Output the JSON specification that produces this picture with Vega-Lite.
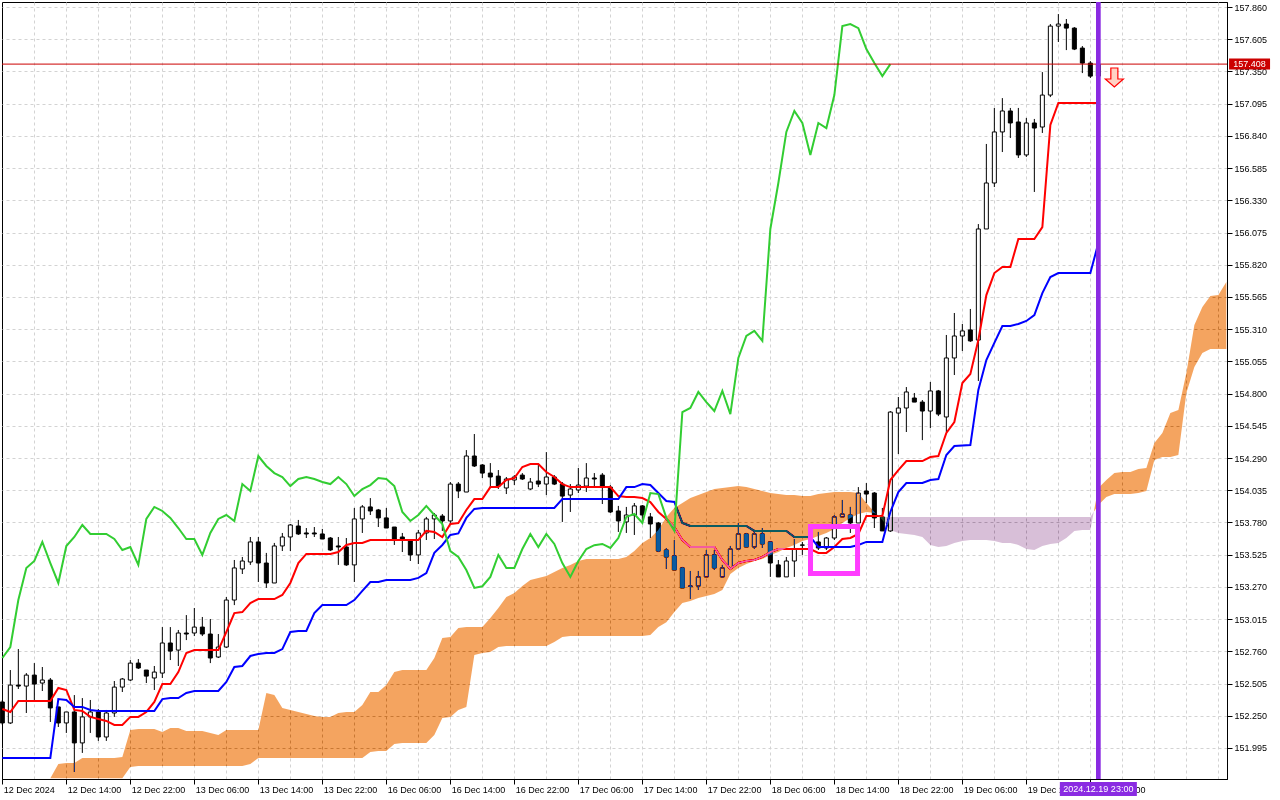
{
  "$schema": "https://vega.github.io/schema/vega-lite/v6.json",
  "width": 1225,
  "height": 777,
  "autosize": {"type": "none"},
  "padding": {"left": 2, "top": 2, "right": 53, "bottom": 21},
  "background": "white",
  "config": {
    "view": {"stroke": "black", "strokeWidth": 1, "fill": "white"},
    "font": "Liberation Sans",
    "axis": {"labelOverlap": false, "labelSeparation": 0}
  },
  "datasets": {
    "bars": [
      {"k":0,"o":152.359,"h":152.375,"l":152.177,"c":152.193},
      {"k":1,"o":152.193,"h":152.612,"l":152.185,"c":152.493},
      {"k":2,"o":152.493,"h":152.778,"l":152.462,"c":152.485},
      {"k":3,"o":152.485,"h":152.588,"l":152.272,"c":152.572},
      {"k":4,"o":152.572,"h":152.667,"l":152.375,"c":152.501},
      {"k":5,"o":152.509,"h":152.636,"l":152.446,"c":152.533},
      {"k":6,"o":152.533,"h":152.549,"l":152.201,"c":152.312},
      {"k":7,"o":152.320,"h":152.320,"l":152.161,"c":152.193},
      {"k":8,"o":152.193,"h":152.280,"l":152.114,"c":152.280},
      {"k":9,"o":152.280,"h":152.414,"l":151.805,"c":152.035},
      {"k":10,"o":152.035,"h":152.390,"l":151.956,"c":152.241},
      {"k":11,"o":152.241,"h":152.375,"l":152.114,"c":152.280},
      {"k":12,"o":152.280,"h":152.304,"l":152.051,"c":152.082},
      {"k":13,"o":152.082,"h":152.296,"l":152.051,"c":152.272},
      {"k":14,"o":152.272,"h":152.525,"l":152.241,"c":152.477},
      {"k":15,"o":152.477,"h":152.549,"l":152.438,"c":152.541},
      {"k":16,"o":152.533,"h":152.691,"l":152.525,"c":152.667},
      {"k":17,"o":152.667,"h":152.699,"l":152.620,"c":152.628},
      {"k":18,"o":152.612,"h":152.612,"l":152.509,"c":152.564},
      {"k":19,"o":152.549,"h":152.644,"l":152.454,"c":152.596},
      {"k":20,"o":152.588,"h":152.952,"l":152.549,"c":152.826},
      {"k":21,"o":152.826,"h":152.952,"l":152.691,"c":152.762},
      {"k":22,"o":152.770,"h":152.929,"l":152.644,"c":152.905},
      {"k":23,"o":152.905,"h":153.047,"l":152.849,"c":152.897},
      {"k":24,"o":152.905,"h":153.103,"l":152.881,"c":152.952},
      {"k":25,"o":152.952,"h":153.032,"l":152.881,"c":152.897},
      {"k":26,"o":152.897,"h":153.016,"l":152.667,"c":152.707},
      {"k":27,"o":152.715,"h":152.897,"l":152.707,"c":152.794},
      {"k":28,"o":152.794,"h":153.190,"l":152.786,"c":153.166},
      {"k":29,"o":153.166,"h":153.483,"l":153.126,"c":153.420},
      {"k":30,"o":153.412,"h":153.507,"l":153.372,"c":153.475},
      {"k":31,"o":153.467,"h":153.665,"l":153.444,"c":153.626},
      {"k":32,"o":153.626,"h":153.665,"l":153.309,"c":153.459},
      {"k":33,"o":153.459,"h":153.539,"l":153.262,"c":153.301},
      {"k":34,"o":153.301,"h":153.618,"l":153.301,"c":153.594},
      {"k":35,"o":153.594,"h":153.697,"l":153.554,"c":153.665},
      {"k":36,"o":153.665,"h":153.768,"l":153.554,"c":153.760},
      {"k":37,"o":153.752,"h":153.800,"l":153.681,"c":153.689},
      {"k":38,"o":153.697,"h":153.736,"l":153.657,"c":153.689},
      {"k":39,"o":153.697,"h":153.744,"l":153.665,"c":153.689},
      {"k":40,"o":153.689,"h":153.729,"l":153.649,"c":153.649},
      {"k":41,"o":153.657,"h":153.665,"l":153.554,"c":153.562},
      {"k":42,"o":153.594,"h":153.665,"l":153.444,"c":153.586},
      {"k":43,"o":153.586,"h":153.657,"l":153.436,"c":153.444},
      {"k":44,"o":153.444,"h":153.895,"l":153.309,"c":153.808},
      {"k":45,"o":153.808,"h":153.918,"l":153.697,"c":153.903},
      {"k":46,"o":153.903,"h":153.973,"l":153.839,"c":153.871},
      {"k":47,"o":153.879,"h":153.887,"l":153.744,"c":153.816},
      {"k":48,"o":153.816,"h":153.895,"l":153.736,"c":153.736},
      {"k":49,"o":153.744,"h":153.744,"l":153.602,"c":153.649},
      {"k":50,"o":153.665,"h":153.697,"l":153.546,"c":153.649},
      {"k":51,"o":153.634,"h":153.634,"l":153.475,"c":153.523},
      {"k":52,"o":153.523,"h":153.721,"l":153.451,"c":153.697},
      {"k":53,"o":153.697,"h":153.824,"l":153.641,"c":153.808},
      {"k":54,"o":153.808,"h":153.855,"l":153.649,"c":153.839},
      {"k":55,"o":153.831,"h":153.847,"l":153.713,"c":153.792},
      {"k":56,"o":153.792,"h":154.100,"l":153.760,"c":154.084},
      {"k":57,"o":154.084,"h":154.100,"l":153.973,"c":154.029},
      {"k":58,"o":154.021,"h":154.353,"l":154.021,"c":154.306},
      {"k":59,"o":154.306,"h":154.480,"l":154.219,"c":154.227},
      {"k":60,"o":154.235,"h":154.242,"l":154.132,"c":154.171},
      {"k":61,"o":154.171,"h":154.250,"l":154.060,"c":154.140},
      {"k":62,"o":154.147,"h":154.195,"l":154.045,"c":154.068},
      {"k":63,"o":154.053,"h":154.140,"l":154.005,"c":154.124},
      {"k":64,"o":154.116,"h":154.155,"l":154.076,"c":154.140},
      {"k":65,"o":154.155,"h":154.171,"l":154.116,"c":154.124},
      {"k":66,"o":154.045,"h":154.132,"l":154.037,"c":154.100},
      {"k":67,"o":154.108,"h":154.235,"l":154.060,"c":154.084},
      {"k":68,"o":154.084,"h":154.337,"l":153.997,"c":154.140},
      {"k":69,"o":154.140,"h":154.155,"l":154.076,"c":154.084},
      {"k":70,"o":154.084,"h":154.100,"l":153.784,"c":153.989},
      {"k":71,"o":153.997,"h":154.084,"l":153.863,"c":154.045},
      {"k":72,"o":154.037,"h":154.211,"l":154.013,"c":154.076},
      {"k":73,"o":154.068,"h":154.250,"l":154.021,"c":154.132},
      {"k":74,"o":154.132,"h":154.171,"l":154.060,"c":154.124},
      {"k":75,"o":154.155,"h":154.171,"l":153.926,"c":154.068},
      {"k":76,"o":154.060,"h":154.076,"l":153.855,"c":153.863},
      {"k":77,"o":153.871,"h":153.911,"l":153.705,"c":153.792},
      {"k":78,"o":153.784,"h":153.903,"l":153.697,"c":153.839},
      {"k":79,"o":153.839,"h":153.934,"l":153.681,"c":153.911},
      {"k":80,"o":153.911,"h":153.918,"l":153.776,"c":153.839},
      {"k":81,"o":153.824,"h":153.855,"l":153.657,"c":153.768},
      {"k":82,"o":153.776,"h":153.784,"l":153.546,"c":153.554},
      {"k":83,"o":153.562,"h":153.578,"l":153.412,"c":153.507},
      {"k":84,"o":153.515,"h":153.641,"l":153.404,"c":153.404},
      {"k":85,"o":153.420,"h":153.428,"l":153.262,"c":153.262},
      {"k":86,"o":153.277,"h":153.396,"l":153.174,"c":153.275},
      {"k":87,"o":153.277,"h":153.396,"l":153.246,"c":153.349},
      {"k":88,"o":153.349,"h":153.562,"l":153.349,"c":153.523},
      {"k":89,"o":153.523,"h":153.562,"l":153.404,"c":153.420},
      {"k":90,"o":153.349,"h":153.444,"l":153.341,"c":153.420},
      {"k":91,"o":153.420,"h":153.594,"l":153.412,"c":153.570},
      {"k":92,"o":153.570,"h":153.776,"l":153.562,"c":153.689},
      {"k":93,"o":153.689,"h":153.697,"l":153.586,"c":153.586},
      {"k":94,"o":153.586,"h":153.721,"l":153.570,"c":153.689},
      {"k":95,"o":153.689,"h":153.736,"l":153.578,"c":153.610},
      {"k":96,"o":153.626,"h":153.626,"l":153.349,"c":153.459},
      {"k":97,"o":153.444,"h":153.483,"l":153.349,"c":153.349},
      {"k":98,"o":153.349,"h":153.507,"l":153.349,"c":153.475},
      {"k":99,"o":153.475,"h":153.649,"l":153.349,"c":153.570},
      {"k":100,"o":153.602,"h":153.626,"l":153.523,"c":153.600},
      {"k":101,"o":153.602,"h":153.641,"l":153.562,"c":153.610},
      {"k":102,"o":153.626,"h":153.705,"l":153.562,"c":153.578},
      {"k":103,"o":153.578,"h":153.665,"l":153.562,"c":153.657},
      {"k":104,"o":153.657,"h":153.839,"l":153.641,"c":153.824},
      {"k":105,"o":153.824,"h":153.958,"l":153.824,"c":153.847},
      {"k":106,"o":153.839,"h":153.903,"l":153.697,"c":153.776},
      {"k":107,"o":153.776,"h":154.060,"l":153.776,"c":154.013},
      {"k":108,"o":154.029,"h":154.092,"l":153.934,"c":154.005},
      {"k":109,"o":154.013,"h":154.021,"l":153.736,"c":153.816},
      {"k":110,"o":153.824,"h":153.895,"l":153.713,"c":153.713},
      {"k":111,"o":153.713,"h":154.662,"l":153.705,"c":154.654},
      {"k":112,"o":154.646,"h":154.773,"l":154.322,"c":154.686},
      {"k":113,"o":154.686,"h":154.852,"l":154.496,"c":154.813},
      {"k":114,"o":154.765,"h":154.805,"l":154.733,"c":154.733},
      {"k":115,"o":154.733,"h":154.749,"l":154.432,"c":154.662},
      {"k":116,"o":154.662,"h":154.892,"l":154.527,"c":154.821},
      {"k":117,"o":154.821,"h":154.829,"l":154.622,"c":154.638},
      {"k":118,"o":154.615,"h":155.264,"l":154.496,"c":155.082},
      {"k":119,"o":155.082,"h":155.438,"l":154.947,"c":155.256},
      {"k":120,"o":155.256,"h":155.351,"l":155.137,"c":155.296},
      {"k":121,"o":155.304,"h":155.470,"l":155.209,"c":155.217},
      {"k":122,"o":155.224,"h":156.142,"l":154.900,"c":156.103},
      {"k":123,"o":156.103,"h":156.776,"l":156.103,"c":156.467},
      {"k":124,"o":156.467,"h":157.061,"l":156.435,"c":156.871},
      {"k":125,"o":156.871,"h":157.139,"l":156.712,"c":157.037},
      {"k":126,"o":157.037,"h":157.061,"l":156.823,"c":156.942},
      {"k":127,"o":156.950,"h":157.061,"l":156.665,"c":156.689},
      {"k":128,"o":156.689,"h":156.982,"l":156.673,"c":156.942},
      {"k":129,"o":156.942,"h":156.974,"l":156.396,"c":156.902},
      {"k":130,"o":156.910,"h":157.345,"l":156.863,"c":157.163},
      {"k":131,"o":157.163,"h":157.725,"l":157.147,"c":157.709},
      {"k":132,"o":157.709,"h":157.804,"l":157.583,"c":157.725},
      {"k":133,"o":157.725,"h":157.765,"l":157.519,"c":157.693},
      {"k":134,"o":157.693,"h":157.701,"l":157.519,"c":157.527},
      {"k":135,"o":157.535,"h":157.551,"l":157.337,"c":157.416},
      {"k":136,"o":157.416,"h":157.432,"l":157.298,"c":157.313},
      {"k":137,"o":157.313,"h":157.412,"l":157.300,"c":157.408}
    ],
    "tenkan": [
      {"k":0,"v":152.304},{"k":1,"v":152.280},{"k":2,"v":152.367},{"k":6,"v":152.367},{"k":7,"v":152.470},
      {"k":8,"v":152.454},{"k":9,"v":152.296},{"k":10,"v":152.288},{"k":11,"v":152.241},{"k":12,"v":152.225},
      {"k":13,"v":152.209},{"k":14,"v":152.177},{"k":15,"v":152.177},{"k":16,"v":152.241},{"k":17,"v":152.241},
      {"k":18,"v":152.280},{"k":19,"v":152.359},{"k":20,"v":152.501},{"k":21,"v":152.501},{"k":22,"v":152.596},
      {"k":23,"v":152.747},{"k":24,"v":152.770},{"k":27,"v":152.770},{"k":28,"v":152.913},{"k":29,"v":153.063},
      {"k":30,"v":153.071},{"k":31,"v":153.142},{"k":32,"v":153.174},{"k":34,"v":153.174},{"k":35,"v":153.206},
      {"k":36,"v":153.301},{"k":37,"v":153.459},{"k":38,"v":153.531},{"k":41,"v":153.531},{"k":42,"v":153.546},
      {"k":43,"v":153.602},{"k":44,"v":153.618},{"k":45,"v":153.618},{"k":46,"v":153.641},{"k":52,"v":153.641},
      {"k":53,"v":153.713},{"k":54,"v":153.705},{"k":55,"v":153.665},{"k":56,"v":153.768},{"k":57,"v":153.776},
      {"k":58,"v":153.879},{"k":59,"v":153.965},{"k":60,"v":153.965},{"k":61,"v":154.060},{"k":62,"v":154.060},
      {"k":63,"v":154.116},{"k":64,"v":154.132},{"k":65,"v":154.219},{"k":66,"v":154.242},{"k":67,"v":154.242},
      {"k":68,"v":154.179},{"k":69,"v":154.140},{"k":70,"v":154.084},{"k":71,"v":154.060},{"k":76,"v":154.060},
      {"k":77,"v":153.989},{"k":78,"v":153.981},{"k":79,"v":153.981},{"k":80,"v":153.973},{"k":81,"v":153.942},
      {"k":82,"v":153.863},{"k":83,"v":153.808},{"k":84,"v":153.744},{"k":85,"v":153.641},{"k":86,"v":153.586},
      {"k":89,"v":153.586},{"k":90,"v":153.483},{"k":91,"v":153.412},{"k":92,"v":153.459},{"k":93,"v":153.475},
      {"k":94,"v":153.483},{"k":95,"v":153.507},{"k":96,"v":153.546},{"k":97,"v":153.570},{"k":101,"v":153.570},
      {"k":102,"v":153.539},{"k":103,"v":153.539},{"k":104,"v":153.586},{"k":105,"v":153.649},{"k":106,"v":153.657},
      {"k":107,"v":153.689},{"k":108,"v":153.831},{"k":110,"v":153.831},{"k":111,"v":154.116},{"k":112,"v":154.195},
      {"k":113,"v":154.266},{"k":115,"v":154.266},{"k":116,"v":154.298},{"k":117,"v":154.306},{"k":118,"v":154.488},
      {"k":119,"v":154.575},{"k":120,"v":154.884},{"k":121,"v":154.955},{"k":122,"v":155.224},{"k":123,"v":155.580},
      {"k":124,"v":155.754},{"k":125,"v":155.802},{"k":126,"v":155.802},{"k":127,"v":156.023},{"k":129,"v":156.023},
      {"k":130,"v":156.118},{"k":131,"v":156.926},{"k":132,"v":157.100},{"k":137,"v":157.100}
    ],
    "kijun": [
      {"k":0,"v":151.916},{"k":6,"v":151.916},{"k":7,"v":152.382},{"k":8,"v":152.375},{"k":9,"v":152.320},
      {"k":10,"v":152.320},{"k":11,"v":152.296},{"k":12,"v":152.288},{"k":19,"v":152.288},{"k":20,"v":152.382},
      {"k":21,"v":152.390},{"k":22,"v":152.390},{"k":23,"v":152.430},{"k":24,"v":152.446},{"k":27,"v":152.446},
      {"k":28,"v":152.517},{"k":29,"v":152.636},{"k":30,"v":152.644},{"k":31,"v":152.723},{"k":32,"v":152.739},
      {"k":33,"v":152.747},{"k":34,"v":152.747},{"k":35,"v":152.778},{"k":36,"v":152.913},{"k":37,"v":152.921},
      {"k":38,"v":152.921},{"k":39,"v":153.063},{"k":40,"v":153.126},{"k":43,"v":153.126},{"k":44,"v":153.166},
      {"k":45,"v":153.238},{"k":46,"v":153.309},{"k":47,"v":153.309},{"k":48,"v":153.325},{"k":51,"v":153.325},
      {"k":52,"v":153.341},{"k":53,"v":153.380},{"k":54,"v":153.539},{"k":55,"v":153.602},{"k":56,"v":153.681},
      {"k":57,"v":153.693},{"k":58,"v":153.816},{"k":59,"v":153.887},{"k":60,"v":153.895},{"k":69,"v":153.895},
      {"k":70,"v":153.965},{"k":77,"v":153.965},{"k":78,"v":154.060},{"k":79,"v":154.060},{"k":80,"v":154.084},
      {"k":81,"v":154.076},{"k":82,"v":154.013},{"k":83,"v":153.950},{"k":84,"v":153.942},{"k":85,"v":153.776},
      {"k":86,"v":153.752},{"k":93,"v":153.752},{"k":94,"v":153.713},{"k":98,"v":153.713},{"k":99,"v":153.665},
      {"k":101,"v":153.665},{"k":102,"v":153.586},{"k":106,"v":153.586},{"k":107,"v":153.602},{"k":108,"v":153.626},
      {"k":110,"v":153.626},{"k":111,"v":153.863},{"k":112,"v":154.021},{"k":113,"v":154.092},{"k":115,"v":154.092},
      {"k":116,"v":154.116},{"k":117,"v":154.124},{"k":118,"v":154.314},{"k":119,"v":154.385},{"k":121,"v":154.393},
      {"k":122,"v":154.829},{"k":123,"v":155.066},{"k":124,"v":155.201},{"k":125,"v":155.335},{"k":126,"v":155.335},
      {"k":127,"v":155.351},{"k":128,"v":155.375},{"k":129,"v":155.422},{"k":130,"v":155.596},{"k":131,"v":155.723},
      {"k":132,"v":155.754},{"k":136,"v":155.754},{"k":137,"v":155.992}
    ],
    "chikou": [
      {"k":0,"v":152.707},{"k":1,"v":152.794},{"k":2,"v":153.166},{"k":3,"v":153.420},{"k":4,"v":153.475},
      {"k":5,"v":153.626},{"k":6,"v":153.459},{"k":7,"v":153.301},{"k":8,"v":153.594},{"k":9,"v":153.665},
      {"k":10,"v":153.760},{"k":11,"v":153.689},{"k":12,"v":153.689},{"k":13,"v":153.689},{"k":14,"v":153.649},
      {"k":15,"v":153.562},{"k":16,"v":153.586},{"k":17,"v":153.444},{"k":18,"v":153.808},{"k":19,"v":153.903},
      {"k":20,"v":153.871},{"k":21,"v":153.816},{"k":22,"v":153.736},{"k":23,"v":153.649},{"k":24,"v":153.649},
      {"k":25,"v":153.523},{"k":26,"v":153.697},{"k":27,"v":153.808},{"k":28,"v":153.839},{"k":29,"v":153.792},
      {"k":30,"v":154.084},{"k":31,"v":154.029},{"k":32,"v":154.306},{"k":33,"v":154.227},{"k":34,"v":154.171},
      {"k":35,"v":154.140},{"k":36,"v":154.068},{"k":37,"v":154.124},{"k":38,"v":154.140},{"k":39,"v":154.124},
      {"k":40,"v":154.100},{"k":41,"v":154.084},{"k":42,"v":154.140},{"k":43,"v":154.084},{"k":44,"v":153.989},
      {"k":45,"v":154.045},{"k":46,"v":154.076},{"k":47,"v":154.132},{"k":48,"v":154.124},{"k":49,"v":154.068},
      {"k":50,"v":153.863},{"k":51,"v":153.792},{"k":52,"v":153.839},{"k":53,"v":153.911},{"k":54,"v":153.839},
      {"k":55,"v":153.768},{"k":56,"v":153.554},{"k":57,"v":153.507},{"k":58,"v":153.404},{"k":59,"v":153.262},
      {"k":60,"v":153.275},{"k":61,"v":153.349},{"k":62,"v":153.523},{"k":63,"v":153.420},{"k":64,"v":153.420},
      {"k":65,"v":153.570},{"k":66,"v":153.689},{"k":67,"v":153.586},{"k":68,"v":153.689},{"k":69,"v":153.610},
      {"k":70,"v":153.459},{"k":71,"v":153.349},{"k":72,"v":153.475},{"k":73,"v":153.570},{"k":74,"v":153.600},
      {"k":75,"v":153.610},{"k":76,"v":153.578},{"k":77,"v":153.657},{"k":78,"v":153.824},{"k":79,"v":153.847},
      {"k":80,"v":153.776},{"k":81,"v":154.013},{"k":82,"v":154.005},{"k":83,"v":153.816},{"k":84,"v":153.713},
      {"k":85,"v":154.654},{"k":86,"v":154.686},{"k":87,"v":154.813},{"k":88,"v":154.733},{"k":89,"v":154.662},
      {"k":90,"v":154.821},{"k":91,"v":154.638},{"k":92,"v":155.082},{"k":93,"v":155.256},{"k":94,"v":155.296},
      {"k":95,"v":155.217},{"k":96,"v":156.103},{"k":97,"v":156.467},{"k":98,"v":156.871},{"k":99,"v":157.037},
      {"k":100,"v":156.942},{"k":101,"v":156.689},{"k":102,"v":156.942},{"k":103,"v":156.902},{"k":104,"v":157.163},
      {"k":105,"v":157.709},{"k":106,"v":157.725},{"k":107,"v":157.693},{"k":108,"v":157.527},{"k":109,"v":157.416},
      {"k":110,"v":157.313},{"k":111,"v":157.408}
    ],
    "cloud": [
      {"k":0,"a":151.755,"b":151.755,"seg":"s1","trend":"bull"},
      {"k":6,"a":151.755,"b":151.755,"seg":"s1","trend":"bull"},
      {"k":7,"a":151.868,"b":151.755,"seg":"s1","trend":"bull"},
      {"k":8,"a":151.876,"b":151.755,"seg":"s1","trend":"bull"},
      {"k":9,"a":151.876,"b":151.755,"seg":"s1","trend":"bull"},
      {"k":10,"a":151.916,"b":151.755,"seg":"s1","trend":"bull"},
      {"k":14,"a":151.916,"b":151.755,"seg":"s1","trend":"bull"},
      {"k":15,"a":151.924,"b":151.755,"seg":"s1","trend":"bull"},
      {"k":16,"a":152.138,"b":151.845,"seg":"s1","trend":"bull"},
      {"k":17,"a":152.146,"b":151.853,"seg":"s1","trend":"bull"},
      {"k":19,"a":152.146,"b":151.853,"seg":"s1","trend":"bull"},
      {"k":20,"a":152.122,"b":151.853,"seg":"s1","trend":"bull"},
      {"k":21,"a":152.154,"b":151.853,"seg":"s1","trend":"bull"},
      {"k":22,"a":152.154,"b":151.853,"seg":"s1","trend":"bull"},
      {"k":23,"a":152.130,"b":151.853,"seg":"s1","trend":"bull"},
      {"k":25,"a":152.130,"b":151.853,"seg":"s1","trend":"bull"},
      {"k":26,"a":152.114,"b":151.853,"seg":"s1","trend":"bull"},
      {"k":27,"a":152.098,"b":151.853,"seg":"s1","trend":"bull"},
      {"k":28,"a":152.138,"b":151.853,"seg":"s1","trend":"bull"},
      {"k":30,"a":152.138,"b":151.853,"seg":"s1","trend":"bull"},
      {"k":31,"a":152.138,"b":151.868,"seg":"s1","trend":"bull"},
      {"k":32,"a":152.138,"b":151.916,"seg":"s1","trend":"bull"},
      {"k":33,"a":152.430,"b":151.916,"seg":"s1","trend":"bull"},
      {"k":34,"a":152.414,"b":151.916,"seg":"s1","trend":"bull"},
      {"k":35,"a":152.312,"b":151.916,"seg":"s1","trend":"bull"},
      {"k":36,"a":152.296,"b":151.916,"seg":"s1","trend":"bull"},
      {"k":37,"a":152.280,"b":151.916,"seg":"s1","trend":"bull"},
      {"k":38,"a":152.264,"b":151.916,"seg":"s1","trend":"bull"},
      {"k":39,"a":152.248,"b":151.916,"seg":"s1","trend":"bull"},
      {"k":40,"a":152.241,"b":151.916,"seg":"s1","trend":"bull"},
      {"k":41,"a":152.241,"b":151.916,"seg":"s1","trend":"bull"},
      {"k":42,"a":152.272,"b":151.916,"seg":"s1","trend":"bull"},
      {"k":43,"a":152.280,"b":151.916,"seg":"s1","trend":"bull"},
      {"k":44,"a":152.280,"b":151.916,"seg":"s1","trend":"bull"},
      {"k":45,"a":152.335,"b":151.916,"seg":"s1","trend":"bull"},
      {"k":46,"a":152.438,"b":151.963,"seg":"s1","trend":"bull"},
      {"k":47,"a":152.438,"b":151.971,"seg":"s1","trend":"bull"},
      {"k":48,"a":152.493,"b":151.971,"seg":"s1","trend":"bull"},
      {"k":49,"a":152.596,"b":152.026,"seg":"s1","trend":"bull"},
      {"k":50,"a":152.612,"b":152.035,"seg":"s1","trend":"bull"},
      {"k":53,"a":152.612,"b":152.035,"seg":"s1","trend":"bull"},
      {"k":54,"a":152.707,"b":152.098,"seg":"s1","trend":"bull"},
      {"k":55,"a":152.865,"b":152.233,"seg":"s1","trend":"bull"},
      {"k":56,"a":152.873,"b":152.241,"seg":"s1","trend":"bull"},
      {"k":57,"a":152.944,"b":152.296,"seg":"s1","trend":"bull"},
      {"k":58,"a":152.952,"b":152.320,"seg":"s1","trend":"bull"},
      {"k":59,"a":152.952,"b":152.731,"seg":"s1","trend":"bull"},
      {"k":60,"a":152.952,"b":152.747,"seg":"s1","trend":"bull"},
      {"k":61,"a":153.024,"b":152.754,"seg":"s1","trend":"bull"},
      {"k":62,"a":153.103,"b":152.794,"seg":"s1","trend":"bull"},
      {"k":63,"a":153.190,"b":152.802,"seg":"s1","trend":"bull"},
      {"k":64,"a":153.222,"b":152.802,"seg":"s1","trend":"bull"},
      {"k":65,"a":153.277,"b":152.802,"seg":"s1","trend":"bull"},
      {"k":66,"a":153.325,"b":152.802,"seg":"s1","trend":"bull"},
      {"k":67,"a":153.341,"b":152.802,"seg":"s1","trend":"bull"},
      {"k":68,"a":153.356,"b":152.802,"seg":"s1","trend":"bull"},
      {"k":69,"a":153.388,"b":152.833,"seg":"s1","trend":"bull"},
      {"k":70,"a":153.420,"b":152.873,"seg":"s1","trend":"bull"},
      {"k":71,"a":153.444,"b":152.881,"seg":"s1","trend":"bull"},
      {"k":72,"a":153.475,"b":152.881,"seg":"s1","trend":"bull"},
      {"k":73,"a":153.491,"b":152.881,"seg":"s1","trend":"bull"},
      {"k":77,"a":153.491,"b":152.881,"seg":"s1","trend":"bull"},
      {"k":78,"a":153.507,"b":152.881,"seg":"s1","trend":"bull"},
      {"k":79,"a":153.554,"b":152.881,"seg":"s1","trend":"bull"},
      {"k":80,"a":153.618,"b":152.881,"seg":"s1","trend":"bull"},
      {"k":81,"a":153.657,"b":152.889,"seg":"s1","trend":"bull"},
      {"k":82,"a":153.721,"b":152.952,"seg":"s1","trend":"bull"},
      {"k":83,"a":153.824,"b":152.991,"seg":"s1","trend":"bull"},
      {"k":84,"a":153.895,"b":153.071,"seg":"s1","trend":"bull"},
      {"k":85,"a":153.934,"b":153.142,"seg":"s1","trend":"bull"},
      {"k":86,"a":153.973,"b":153.158,"seg":"s1","trend":"bull"},
      {"k":87,"a":153.997,"b":153.182,"seg":"s1","trend":"bull"},
      {"k":88,"a":154.021,"b":153.198,"seg":"s1","trend":"bull"},
      {"k":89,"a":154.045,"b":153.214,"seg":"s1","trend":"bull"},
      {"k":90,"a":154.053,"b":153.246,"seg":"s1","trend":"bull"},
      {"k":91,"a":154.060,"b":153.372,"seg":"s1","trend":"bull"},
      {"k":92,"a":154.068,"b":153.420,"seg":"s1","trend":"bull"},
      {"k":93,"a":154.060,"b":153.451,"seg":"s1","trend":"bull"},
      {"k":94,"a":154.045,"b":153.475,"seg":"s1","trend":"bull"},
      {"k":95,"a":154.029,"b":153.491,"seg":"s1","trend":"bull"},
      {"k":96,"a":154.013,"b":153.523,"seg":"s1","trend":"bull"},
      {"k":97,"a":154.005,"b":153.546,"seg":"s1","trend":"bull"},
      {"k":98,"a":153.997,"b":153.578,"seg":"s1","trend":"bull"},
      {"k":99,"a":153.997,"b":153.602,"seg":"s1","trend":"bull"},
      {"k":100,"a":153.989,"b":153.634,"seg":"s1","trend":"bull"},
      {"k":101,"a":153.989,"b":153.649,"seg":"s1","trend":"bull"},
      {"k":102,"a":154.005,"b":153.673,"seg":"s1","trend":"bull"},
      {"k":103,"a":154.013,"b":153.697,"seg":"s1","trend":"bull"},
      {"k":104,"a":154.021,"b":153.729,"seg":"s1","trend":"bull"},
      {"k":105,"a":154.021,"b":153.776,"seg":"s1","trend":"bull"},
      {"k":106,"a":154.021,"b":153.816,"seg":"s1","trend":"bull"},
      {"k":107,"a":154.013,"b":153.847,"seg":"s1","trend":"bull"},
      {"k":108,"a":153.934,"b":153.863,"seg":"s1","trend":"bull"},
      {"k":109,"a":153.863,"b":153.855,"seg":"s1","trend":"bull"},
      {"k":109.25,"a":153.847,"b":153.847,"seg":"s1","trend":"bull"},
      {"k":109.25,"a":153.847,"b":153.847,"seg":"s2","trend":"bear"},
      {"k":110,"a":153.800,"b":153.824,"seg":"s2","trend":"bear"},
      {"k":111,"a":153.721,"b":153.824,"seg":"s2","trend":"bear"},
      {"k":112,"a":153.697,"b":153.824,"seg":"s2","trend":"bear"},
      {"k":113,"a":153.689,"b":153.824,"seg":"s2","trend":"bear"},
      {"k":114,"a":153.681,"b":153.824,"seg":"s2","trend":"bear"},
      {"k":115,"a":153.665,"b":153.824,"seg":"s2","trend":"bear"},
      {"k":116,"a":153.602,"b":153.824,"seg":"s2","trend":"bear"},
      {"k":117,"a":153.586,"b":153.824,"seg":"s2","trend":"bear"},
      {"k":118,"a":153.594,"b":153.824,"seg":"s2","trend":"bear"},
      {"k":119,"a":153.618,"b":153.824,"seg":"s2","trend":"bear"},
      {"k":120,"a":153.634,"b":153.824,"seg":"s2","trend":"bear"},
      {"k":121,"a":153.641,"b":153.824,"seg":"s2","trend":"bear"},
      {"k":123,"a":153.641,"b":153.824,"seg":"s2","trend":"bear"},
      {"k":124,"a":153.634,"b":153.824,"seg":"s2","trend":"bear"},
      {"k":125,"a":153.618,"b":153.824,"seg":"s2","trend":"bear"},
      {"k":126,"a":153.618,"b":153.824,"seg":"s2","trend":"bear"},
      {"k":127,"a":153.602,"b":153.824,"seg":"s2","trend":"bear"},
      {"k":128,"a":153.570,"b":153.824,"seg":"s2","trend":"bear"},
      {"k":129,"a":153.562,"b":153.824,"seg":"s2","trend":"bear"},
      {"k":130,"a":153.594,"b":153.824,"seg":"s2","trend":"bear"},
      {"k":131,"a":153.610,"b":153.824,"seg":"s2","trend":"bear"},
      {"k":132,"a":153.618,"b":153.824,"seg":"s2","trend":"bear"},
      {"k":133,"a":153.657,"b":153.824,"seg":"s2","trend":"bear"},
      {"k":134,"a":153.713,"b":153.824,"seg":"s2","trend":"bear"},
      {"k":135,"a":153.721,"b":153.824,"seg":"s2","trend":"bear"},
      {"k":136,"a":153.721,"b":153.824,"seg":"s2","trend":"bear"},
      {"k":136.433,"a":153.865,"b":153.865,"seg":"s2","trend":"bear"},
      {"k":136.433,"a":153.865,"b":153.865,"seg":"s3","trend":"bull"},
      {"k":137,"a":154.053,"b":153.918,"seg":"s3","trend":"bull"},
      {"k":138,"a":154.116,"b":153.981,"seg":"s3","trend":"bull"},
      {"k":139,"a":154.171,"b":154.005,"seg":"s3","trend":"bull"},
      {"k":140,"a":154.179,"b":154.005,"seg":"s3","trend":"bull"},
      {"k":141,"a":154.179,"b":154.005,"seg":"s3","trend":"bull"},
      {"k":142,"a":154.203,"b":154.013,"seg":"s3","trend":"bull"},
      {"k":143,"a":154.211,"b":154.029,"seg":"s3","trend":"bull"},
      {"k":144,"a":154.409,"b":154.274,"seg":"s3","trend":"bull"},
      {"k":145,"a":154.488,"b":154.298,"seg":"s3","trend":"bull"},
      {"k":146,"a":154.646,"b":154.298,"seg":"s3","trend":"bull"},
      {"k":147,"a":154.670,"b":154.314,"seg":"s3","trend":"bull"},
      {"k":148,"a":154.963,"b":154.805,"seg":"s3","trend":"bull"},
      {"k":149,"a":155.343,"b":155.011,"seg":"s3","trend":"bull"},
      {"k":150,"a":155.486,"b":155.122,"seg":"s3","trend":"bull"},
      {"k":151,"a":155.572,"b":155.153,"seg":"s3","trend":"bull"},
      {"k":152,"a":155.580,"b":155.153,"seg":"s3","trend":"bull"},
      {"k":153,"a":155.683,"b":155.153,"seg":"s3","trend":"bull"}
    ],
    "box": [{"k1":101.02,"k2":106.9,"p1":153.748,"p2":153.376}],
    "bid": [{"price":157.408}],
    "vline": [{"k":137,"label":"2024.12.19 23:00"}],
    "arrow": [{"k":139,"price":157.302}]
  },
  "layer": [
    {
      "data": {"name": "bars"},
      "mark": {"type": "rule", "color": "black", "strokeWidth": 1},
      "encoding": {
        "x": {
          "field": "k", "type": "quantitative",
          "scale": {"domain": [-0.041, 153.08], "nice": false, "zero": false, "padding": 0},
          "axis": {
            "orient": "bottom", "title": null, "zindex": 0, "tickCount": 200,
            "values": [0,4,8,12,16,20,24,28,32,36,40,44,48,52,56,60,64,68,72,76,80,84,88,92,96,100,104,108,112,116,120,124,128,132,136,140,144,148,152],
            "labelExpr": "datum.value % 8 === 0 && datum.value <= 136 ? ['12 Dec 2024','12 Dec 14:00','12 Dec 22:00','13 Dec 06:00','13 Dec 14:00','13 Dec 22:00','16 Dec 06:00','16 Dec 14:00','16 Dec 22:00','17 Dec 06:00','17 Dec 14:00','17 Dec 22:00','18 Dec 06:00','18 Dec 14:00','18 Dec 22:00','19 Dec 06:00','19 Dec 14:00','19 Dec 22:00'][datum.value / 8] : ''",
            "tickColor": {"condition": {"test": "datum.value % 8 === 0 && datum.value <= 136", "value": "black"}, "value": "transparent"},
            "gridColor": {"condition": {"test": "datum.value === 0", "value": "transparent"}, "value": "#d3d3d3"},
            "tickSize": 5,
            "labelFont": "Liberation Sans", "labelFontSize": 9, "labelColor": "black",
            "labelAlign": "left", "labelBaseline": "top", "labelPadding": 1, "labelOffset": 1,
            "labelFlush": false, "labelOverlap": false, "labelBound": false,
            "grid": true, "gridDash": [3, 3],
            "domainColor": "black"
          }
        },
        "y": {
          "field": "l", "type": "quantitative",
          "scale": {"domain": [151.7495, 157.8996], "nice": false, "zero": false, "padding": 0},
          "axis": {
            "orient": "right", "title": null, "zindex": 0, "tickCount": 200,
            "values": [151.995,152.25,152.505,152.76,153.015,153.27,153.525,153.78,154.035,154.29,154.545,154.8,155.055,155.31,155.565,155.82,156.075,156.33,156.585,156.84,157.095,157.35,157.605,157.86],
            "format": ".3f",
            "tickSize": 5, "tickColor": "black",
            "labelFont": "Liberation Sans", "labelFontSize": 9, "labelColor": "black",
            "labelPadding": 2, "labelFlush": false, "labelOverlap": false, "labelBound": false,
            "grid": true, "gridColor": "#d3d3d3", "gridDash": [3, 3],
            "domainColor": "black"
          }
        },
        "y2": {"field": "h"}
      }
    },
    {
      "data": {"name": "bars"},
      "mark": {"type": "bar", "orient": "vertical", "size": 4, "stroke": "black", "strokeWidth": 1},
      "encoding": {
        "x": {"field": "k", "type": "quantitative"},
        "y": {"field": "o", "type": "quantitative"},
        "y2": {"field": "c"},
        "fill": {"condition": {"test": "datum.c >= datum.o", "value": "white"}, "value": "black"}
      }
    },
    {
      "data": {"name": "tenkan"},
      "mark": {"type": "line", "color": "#ff0000", "strokeWidth": 2},
      "encoding": {
        "x": {"field": "k", "type": "quantitative"},
        "y": {"field": "v", "type": "quantitative"}
      }
    },
    {
      "data": {"name": "kijun"},
      "mark": {"type": "line", "color": "#0000ff", "strokeWidth": 2},
      "encoding": {
        "x": {"field": "k", "type": "quantitative"},
        "y": {"field": "v", "type": "quantitative"}
      }
    },
    {
      "data": {"name": "cloud"},
      "mark": {"type": "area", "blend": "difference", "opacity": 1, "interpolate": "linear"},
      "encoding": {
        "x": {"field": "k", "type": "quantitative"},
        "y": {"field": "a", "type": "quantitative", "stack": null},
        "y2": {"field": "b"},
        "color": {"field": "trend", "type": "nominal", "scale": {"domain": ["bull", "bear"], "range": ["#0b5b9f", "#274027"]}, "legend": null},
        "detail": {"field": "seg"}
      }
    },
    {
      "data": {"name": "chikou"},
      "mark": {"type": "line", "color": "#32cd32", "strokeWidth": 2},
      "encoding": {
        "x": {"field": "k", "type": "quantitative"},
        "y": {"field": "v", "type": "quantitative"}
      }
    },
    {
      "data": {"name": "box"},
      "mark": {"type": "rect", "fill": null, "fillOpacity": 0, "stroke": "#ff3cff", "strokeWidth": 5},
      "encoding": {
        "x": {"field": "k1", "type": "quantitative"},
        "x2": {"field": "k2"},
        "y": {"field": "p1", "type": "quantitative"},
        "y2": {"field": "p2"}
      }
    },
    {
      "data": {"name": "bid"},
      "mark": {"type": "rule", "color": "#cc0000", "strokeWidth": 1},
      "encoding": {
        "y": {"field": "price", "type": "quantitative"}
      }
    },
    {
      "data": {"name": "bid"},
      "mark": {"type": "point", "shape": "M-1,-0.268H1V0.268H-1Z", "size": 1681, "filled": true, "fill": "#cc0000", "opacity": 1, "strokeWidth": 0},
      "encoding": {
        "x": {"datum": 155.9, "type": "quantitative"},
        "y": {"field": "price", "type": "quantitative"}
      }
    },
    {
      "data": {"name": "bid"},
      "mark": {"type": "text", "font": "Liberation Sans", "fontSize": 9, "color": "white", "align": "center", "baseline": "middle"},
      "encoding": {
        "x": {"datum": 155.9, "type": "quantitative"},
        "y": {"field": "price", "type": "quantitative"},
        "text": {"field": "price", "format": ".3f"}
      }
    },
    {
      "data": {"name": "vline"},
      "mark": {"type": "rule", "color": "#8a2be2", "strokeWidth": 4.7},
      "encoding": {
        "x": {"field": "k", "type": "quantitative"}
      }
    },
    {
      "data": {"name": "vline"},
      "mark": {"type": "point", "shape": "M-1,-0.182H1V0.182H-1Z", "size": 5929, "filled": true, "fill": "#8a2be2", "opacity": 1, "strokeWidth": 0},
      "encoding": {
        "x": {"field": "k", "type": "quantitative"},
        "y": {"datum": 151.67, "type": "quantitative"}
      }
    },
    {
      "data": {"name": "vline"},
      "mark": {"type": "text", "font": "Liberation Sans", "fontSize": 9, "color": "white", "align": "center", "baseline": "middle"},
      "encoding": {
        "x": {"field": "k", "type": "quantitative"},
        "y": {"datum": 151.67, "type": "quantitative"},
        "text": {"field": "label"}
      }
    },
    {
      "data": {"name": "arrow"},
      "mark": {"type": "point", "shape": "M-0.37,-1L0.37,-1L0.37,0.16L0.95,0.16L0,1L-0.95,0.16L-0.37,0.16Z", "size": 361, "filled": true, "fill": "#ffd2c4", "stroke": "#ff0000", "strokeWidth": 1.2, "opacity": 1},
      "encoding": {
        "x": {"field": "k", "type": "quantitative"},
        "y": {"field": "price", "type": "quantitative"}
      }
    }
  ]
}
